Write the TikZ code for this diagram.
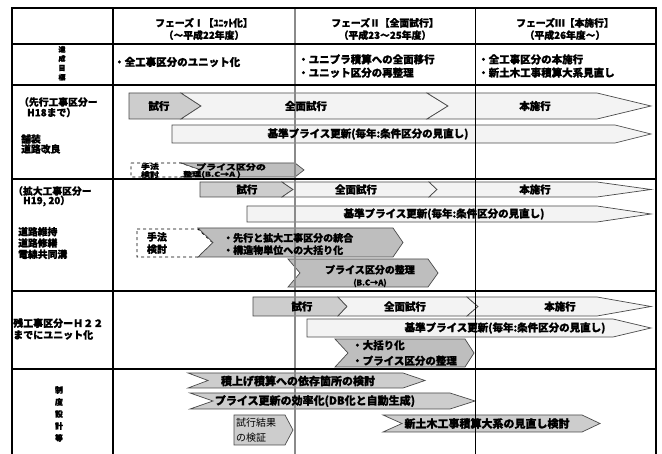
\documentclass[tikz,border=0pt]{standalone}
\usepackage{fontspec}
\setmainfont{Noto Sans CJK JP}[BoldFeatures={FakeBold=1.2}]
\definecolor{arrgray}{HTML}{CDCDCD}
\definecolor{arrdark}{HTML}{BEBEBE}
\definecolor{arrlight}{HTML}{F3F3F3}
\definecolor{edge}{HTML}{4A4A4A}
\definecolor{midline}{HTML}{8A8A8A}
\newcommand{\chv}[7][]{%
  \pgfmathsetmacro{\chvym}{(#6+#7)/2}%
  \path[#1] (#2,#6) -- (#4,#6) -- (#5,\chvym) -- (#4,#7) -- (#2,#7) -- (#3,\chvym) -- cycle;}
\tikzset{
  grayarr/.style={fill=arrgray, draw=edge, line width=0.7pt},
  darkarr/.style={fill=arrdark, draw=edge, line width=0.7pt},
  lightarr/.style={fill=arrlight, draw=edge, line width=0.7pt},
  dashbox/.style={fill=white, draw=black, dashed, line width=0.9pt},
  tblk/.style={draw=black, line width=1.6pt},
  tgray/.style={draw=midline, line width=1.1pt},
  txt/.style={inner sep=0pt, font=\bfseries\fontsize{10.5}{12}\selectfont},
  big/.style={inner sep=0pt, font=\bfseries\fontsize{11}{12}\selectfont},
  hd/.style={inner sep=0pt, align=center, font=\bfseries\fontsize{9.8}{12.3}\selectfont},
  lbl/.style={inner sep=0pt, anchor=west, align=left, font=\bfseries\fontsize{9.8}{11}\selectfont},
}
\begin{document}
\begin{tikzpicture}[x=1pt,y=-1pt]
\useasboundingbox (0,0) rectangle (662,454);
\fill[white] (0,0) rectangle (662,454);
% ---------- row 1 arrows
\chv[grayarr]{129}{129}{181}{201}{93}{119}
\chv[lightarr]{181}{201}{427}{448}{93}{119}
\chv[lightarr]{427}{448}{597}{651}{93}{119}
\chv[lightarr]{172}{172}{615}{651}{125}{143}
\chv[dashbox]{131}{131}{181}{201}{163}{177}
\chv[darkarr]{181}{201}{295}{304}{163}{177}
% ---------- row 2 arrows
\chv[grayarr]{200}{200}{282}{293}{182}{197}
\chv[lightarr]{282}{293}{429}{437}{182}{197}
\chv[lightarr]{429}{437}{597}{651}{182}{197}
\chv[lightarr]{247}{247}{597}{651}{206}{222}
\chv[dashbox]{137}{137}{198}{213}{229}{257}
\chv[darkarr]{198}{213}{393}{403}{228}{257}
\chv[darkarr]{288}{300}{428}{438}{259}{287}
% ---------- row 3 arrows
\chv[grayarr]{253}{253}{338}{347}{297}{316}
\chv[lightarr]{338}{347}{467}{478}{297}{316}
\chv[lightarr]{467}{478}{597}{651}{297}{316}
\chv[lightarr]{307}{307}{613}{651}{319}{337}
\chv[darkarr]{335}{348}{465}{474}{339}{367}
% ---------- row 4 arrows
\chv[grayarr]{188}{208}{403}{425}{373}{388}
\chv[grayarr]{190}{213}{450}{475}{393}{409}
\chv[grayarr]{234}{234}{285}{293}{415}{445}
\chv[grayarr]{383}{402}{582}{600}{415}{432}
% ---------- table lines
\draw[tgray] (295,8) -- (295,454);
\draw[tblk] (475.5,8) -- (475.5,454);
\draw[tblk] (113,8) -- (113,454);
\foreach \yy in {44,85,179,291,369} \draw[tblk] (12,\yy) -- (656,\yy);
\draw[tblk] (12,454) -- (12,8) -- (656,8) -- (656,454);
% ---------- header
\node[hd] (h1) at (204,29) {フェーズⅠ【ﾕﾆｯﾄ化】\\（〜平成22年度）};
\node[hd] (h2) at (385,29) {フェーズⅡ【全面試行】\\（平成23〜25年度）};
\node[hd] (h3) at (565,29) {フェーズⅢ【本施行】\\（平成26年度〜）};
% ---------- goal row
\node[inner sep=0pt, align=center, font=\bfseries\fontsize{7}{9.3}\selectfont] (g0) at (62,63.3) {達\\成\\目\\標};
\node[lbl, font=\bfseries\fontsize{10.5}{13.3}\selectfont] (g1) at (114,62) {・全工事区分のユニット化};
\node[lbl, font=\bfseries\fontsize{10.5}{13.3}\selectfont] (g2) at (298,66) {・ユニプラ積算への全面移行\\・ユニット区分の再整理};
\node[lbl, font=\bfseries\fontsize{10.5}{13.3}\selectfont] (g3) at (478,66) {・全工事区分の本施行\\・新土木工事積算大系見直し};
% ---------- row labels
\node[lbl] (l1a) at (19,102) {（先行工事区分ー};
\node[lbl] (l1b) at (27,112.5) {H18まで）};
\node[lbl, font=\bfseries\fontsize{9.8}{10}\selectfont] (l1c) at (21,144) {舗装\\道路改良};
\node[lbl] (l2a) at (13,191) {（拡大工事区分ー};
\node[lbl] (l2b) at (23,201) {H19, 20）};
\node[lbl, font=\bfseries\fontsize{9.8}{11.3}\selectfont] (l2c) at (18,243) {道路維持\\道路修繕\\電線共同溝};
\node[lbl, font=\bfseries\fontsize{10}{11.7}\selectfont] (l3) at (13,329) {残工事区分ーＨ２２\\までにユニット化};
\node[inner sep=0pt, align=center, font=\bfseries\fontsize{8}{12}\selectfont] (l4) at (59,414) {制\\度\\設\\計\\等};
% ---------- row 1 texts
\node[txt] (t1a) at (159,106) {試行};
\node[txt] (t1b) at (306,106) {全面試行};
\node[txt] (t1c) at (535,106) {本施行};
\node[txt] (t1d) at (368,134) {基準プライス更新(毎年:条件区分の見直し)};
\node[inner sep=0pt, align=left, font=\bfseries\fontsize{9}{8}\selectfont] (t1e) at (150,170.5) {\scalebox{1}[0.8]{手法}\\\scalebox{1}[0.8]{検討}};
\node[inner sep=0pt, anchor=west, font=\bfseries\fontsize{10}{8}\selectfont] (t1f) at (196,167) {\scalebox{1}[0.78]{プライス区分の}};
\node[inner sep=0pt, anchor=west, font=\bfseries\fontsize{9}{8}\selectfont] (t1g) at (183,174.5) {\scalebox{1}[0.75]{整理(B.C→A )}};
% ---------- row 2 texts
\node[txt] (t2a) at (247,189.5) {試行};
\node[txt] (t2b) at (356,189.5) {全面試行};
\node[txt] (t2c) at (535,189.5) {本施行};
\node[txt] (t2d) at (444,214) {基準プライス更新(毎年:条件区分の見直し)};
\node[txt, align=left, font=\bfseries\fontsize{10}{12.3}\selectfont] (t2e) at (157,243) {手法\\検討};
\node[txt, anchor=west, align=left, font=\bfseries\fontsize{10}{12.3}\selectfont] (t2f) at (223,244) {・先行と拡大工事区分の統合\\・構造物単位への大括り化};
\node[txt, align=center, font=\bfseries\fontsize{10}{12}\selectfont] (t2g) at (370,276) {プライス区分の整理\\{\fontsize{8}{10}\selectfont (B.C→A)}};
% ---------- row 3 texts
\node[txt] (t3a) at (302,306.5) {試行};
\node[txt] (t3b) at (405,306.5) {全面試行};
\node[txt] (t3c) at (560,306.5) {本施行};
\node[txt] (t3d) at (505,328) {基準プライス更新(毎年:条件区分の見直し)};
\node[txt, anchor=west, align=left, font=\bfseries\fontsize{10.5}{15.5}\selectfont] (t3e) at (352,353) {・大括り化\\・プライス区分の整理};
% ---------- row 4 texts
\node[big] (t4a) at (298,381) {積上げ積算への依存箇所の検討};
\node[big] (t4b) at (315,401) {プライス更新の効率化(DB化と自動生成)};
\node[inner sep=0pt, anchor=west, align=left, font=\fontsize{10}{14.5}\selectfont] (t4c) at (236,430) {試行結果\\の検証};
\node[big] (t4d) at (487,423.5) {新土木工事積算大系の見直し検討};
\end{tikzpicture}
\end{document}
